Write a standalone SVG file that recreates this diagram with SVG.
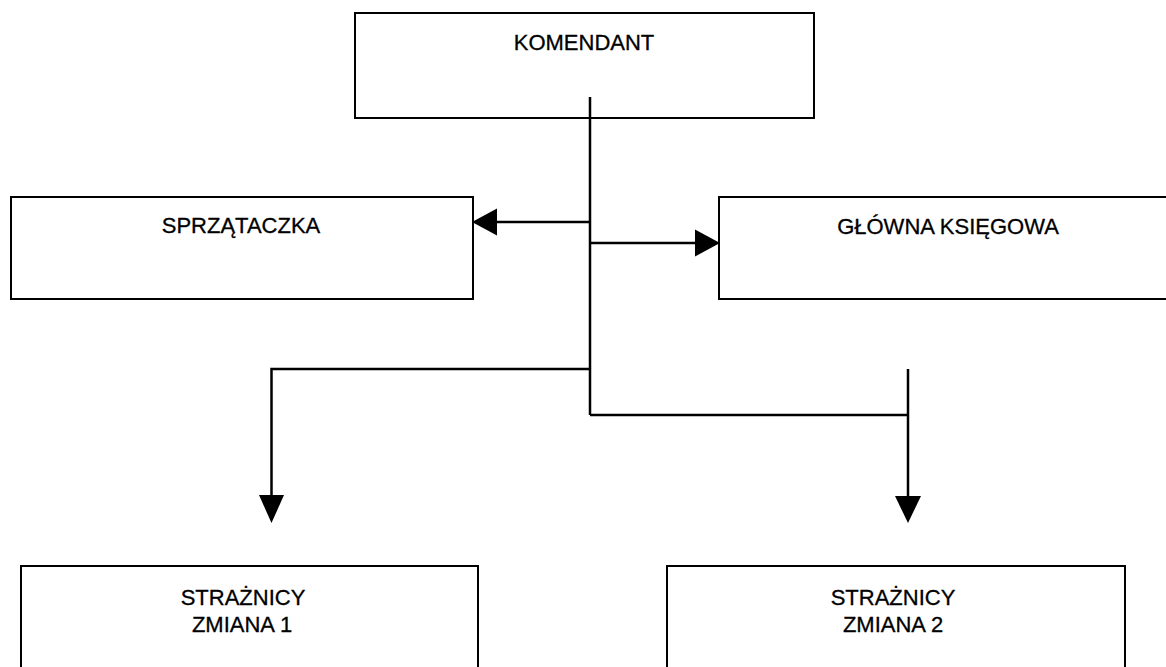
<svg xmlns="http://www.w3.org/2000/svg" width="1166" height="667" viewBox="0 0 1166 667">
<style>
.box{fill:#fff;stroke:#000;stroke-width:2}
.lbl{font-family:"Liberation Sans",Arial,sans-serif;font-size:22px;fill:#000;stroke:#000;stroke-width:0.3;text-anchor:middle}
.ln{fill:none;stroke:#000;stroke-width:2.5}
.ah{fill:#000;stroke:none}
</style>
<rect width="1166" height="667" fill="#fff"/>
<g id="komendant">
<rect class="box" x="355" y="13" width="459" height="105"/>
<text class="lbl" x="584" y="50">KOMENDANT</text>
</g>
<g id="sprzataczka">
<rect class="box" x="11" y="197" width="462" height="102"/>
<text class="lbl" x="241" y="233">SPRZĄTACZKA</text>
</g>
<g id="glowna-ksiegowa">
<rect class="box" x="719" y="197" width="460" height="102"/>
<text class="lbl" x="948" y="234">GŁÓWNA KSIĘGOWA</text>
</g>
<g id="straznicy-1">
<rect class="box" x="21" y="566" width="457" height="120"/>
<text class="lbl" x="243" y="605">STRAŻNICY</text>
<text class="lbl" x="242" y="632">ZMIANA 1</text>
</g>
<g id="straznicy-2">
<rect class="box" x="667" y="566" width="458" height="120"/>
<text class="lbl" x="893" y="605">STRAŻNICY</text>
<text class="lbl" x="893" y="632">ZMIANA 2</text>
</g>
<g id="connectors">
<path class="ln" d="M590,97 V415"/>
<path class="ln" d="M590,222 H497"/>
<polygon class="ah" points="472,222 497,208.5 497,235.5"/>
<path class="ln" d="M590,243 H695"/>
<polygon class="ah" points="720,243 695,229.5 695,256.5"/>
<path class="ln" d="M590,369 H271.5 V496"/>
<polygon class="ah" points="271.5,523 259,495 284,495"/>
<path class="ln" d="M590,415 H908"/>
<path class="ln" d="M908,369 V497"/>
<polygon class="ah" points="908,523 895,496 921,496"/>
</g>
</svg>
